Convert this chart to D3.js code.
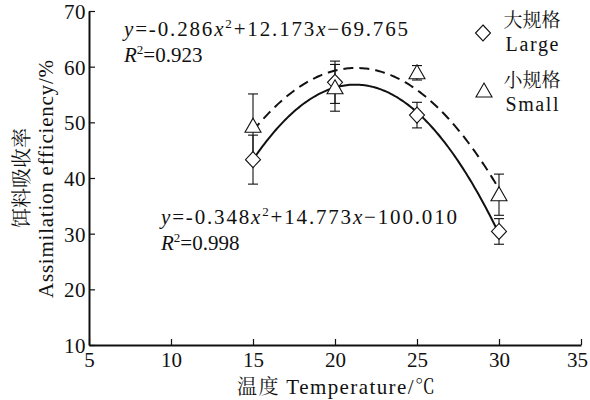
<!DOCTYPE html>
<html><head><meta charset="utf-8">
<script src="https://cdn.jsdelivr.net/npm/d3@7"></script>
<style>html,body{margin:0;padding:0;background:#fff;}</style>
</head>
<body><svg id="c" width="590" height="400"></svg>
<script>
const temps = [15, 20, 25, 30];
const largeMean = [43.3, 57.2, 51.3, 30.4];
const largeErr  = [4.4, 3.8, 2.3, 2.3];
const smallMean = [49.3, 56.2, 58.9, 37.0];
const smallErr  = [5.8, 4.2, 1.3, 3.7];
const largeCoef = [-0.348, 14.773, -100.010];
const smallCoef = [-0.286, 12.173, -69.765];
const xTicks = [5, 10, 15, 20, 25, 30, 35];
const yTicks = [10, 20, 30, 40, 50, 60, 70];

const SERIF = "'Liberation Serif'";
const CJK = "'Noto Serif CJK SC','Noto Sans CJK SC'";
const INK = "#111";
const svg = d3.select("#c");
const x = d3.scaleLinear().domain([5, 35]).range([89, 581]);
const y = d3.scaleLinear().domain([10, 70]).range([345, 11]);

function txt(sel, size, fam) {
  return sel.style("font-family", fam || SERIF).style("font-size", size + "px").style("fill", INK);
}

// axes
const gx = svg.append("g").attr("transform", "translate(0,345)")
  .call(d3.axisBottom(x).tickValues(xTicks).tickSizeInner(-6).tickSizeOuter(0).tickPadding(7).tickFormat(d3.format("d")));
const gy = svg.append("g").attr("transform", "translate(89,0)")
  .call(d3.axisLeft(y).tickValues(yTicks).tickSizeInner(-6).tickSizeOuter(0).tickPadding(3).tickFormat(d3.format("d")));
[gx, gy].forEach(g => {
  g.select(".domain").attr("stroke", INK).attr("stroke-width", 2);
  g.selectAll(".tick line").attr("stroke", INK).attr("stroke-width", 1.2);
  txt(g.selectAll("text"), 21);
});
gy.selectAll(".tick text").attr("dy", "0.36em").style("letter-spacing", "0.5px");
gx.selectAll(".tick text").filter(d => d === 35).attr("dx", -4);

// curves
const xs = d3.range(15, 30.001, 0.1);
const poly = c => v => c[0]*v*v + c[1]*v + c[2];
const line = d3.line().x(d => x(d[0])).y(d => y(d[1]));
svg.append("path").datum(xs.map(v => [v, poly(largeCoef)(v)]))
  .attr("d", line).attr("fill", "none").attr("stroke", INK).attr("stroke-width", 2);
svg.append("path").datum(xs.map(v => [v, poly(smallCoef)(v)]))
  .attr("d", line).attr("fill", "none").attr("stroke", INK).attr("stroke-width", 2).attr("stroke-dasharray", "10,6");

// error bars
function errBars(means, errs) {
  const g = svg.append("g").attr("stroke", INK).attr("stroke-width", 1.1);
  temps.forEach((t, i) => {
    const cx = x(t), top = y(means[i] + errs[i]), bot = y(means[i] - errs[i]);
    g.append("line").attr("x1", cx).attr("x2", cx).attr("y1", top).attr("y2", bot);
    g.append("line").attr("x1", cx - 5).attr("x2", cx + 5).attr("y1", top).attr("y2", top);
    g.append("line").attr("x1", cx - 5).attr("x2", cx + 5).attr("y1", bot).attr("y2", bot);
  });
}
errBars(smallMean, smallErr);
errBars(largeMean, largeErr);

const diamond = "M0,-8L7.5,0L0,8L-7.5,0Z";
const triangle = "M0,-8L8,6L-8,6Z";
svg.append("g").selectAll("path").data(temps).join("path")
  .attr("d", diamond).attr("transform", (t, i) => `translate(${x(t)},${y(largeMean[i])})`)
  .attr("fill", "#fff").attr("stroke", INK).attr("stroke-width", 1.1);
svg.append("g").selectAll("path").data(temps).join("path")
  .attr("d", triangle).attr("transform", (t, i) => `translate(${x(t)},${y(smallMean[i])})`)
  .attr("fill", "#fff").attr("stroke", INK).attr("stroke-width", 1.1);

// equations
function equation(xp, yp, a, b, c, r2, len) {
  const t = txt(svg.append("text"), 21).attr("x", xp).attr("y", yp)
    .attr("textLength", len).attr("lengthAdjust", "spacing");
  t.append("tspan").style("font-style", "italic").text("y");
  t.append("tspan").text("=" + a);
  t.append("tspan").style("font-style", "italic").text("x");
  t.append("tspan").style("font-size", "13px").attr("dy", -8).text("2");
  t.append("tspan").attr("dy", 8).text("+" + b);
  t.append("tspan").style("font-style", "italic").text("x");
  t.append("tspan").text("\u2212" + c);
  const r = txt(svg.append("text"), 21).attr("x", xp).attr("y", yp + 26);
  r.append("tspan").style("font-style", "italic").text("R");
  r.append("tspan").style("font-size", "13px").attr("dy", -8).text("2");
  r.append("tspan").attr("dy", 8).text("=" + r2);
}
equation(124, 36, "-0.286", "12.173", "69.765", "0.923", 284);
equation(161, 224, "-0.348", "14.773", "100.010", "0.998", 296);

// legend
svg.append("path").attr("d", diamond).attr("transform", "translate(483,33)")
  .attr("fill", "#fff").attr("stroke", INK).attr("stroke-width", 1.1);
svg.append("path").attr("d", triangle).attr("transform", "translate(484,91)")
  .attr("fill", "#fff").attr("stroke", INK).attr("stroke-width", 1.1);
txt(svg.append("text"), 19, CJK).attr("x", 532).attr("y", 27).attr("text-anchor", "middle").text("大规格");
txt(svg.append("text"), 20).attr("x", 532).attr("y", 51).attr("text-anchor", "middle").attr("textLength", 53).text("Large");
txt(svg.append("text"), 19, CJK).attr("x", 532).attr("y", 87).attr("text-anchor", "middle").text("小规格");
txt(svg.append("text"), 20).attr("x", 532).attr("y", 111).attr("text-anchor", "middle").attr("textLength", 53).text("Small");

// axis titles
const xt = txt(svg.append("text"), 21).attr("x", 237).attr("y", 394)
  .attr("textLength", 198).attr("lengthAdjust", "spacing");
xt.append("tspan").style("font-family", CJK).style("font-size", "20px").text("温度 ");
xt.append("tspan").text("Temperature/");
xt.append("tspan").style("font-family", CJK).style("font-size", "20px").text("℃");

txt(svg.append("text"), 20, CJK).attr("transform", "translate(29,178) rotate(-90)")
  .attr("text-anchor", "middle").text("饵料吸收率");
txt(svg.append("text"), 21).attr("transform", "translate(53,179) rotate(-90)")
  .attr("text-anchor", "middle").attr("textLength", 238).attr("lengthAdjust", "spacing")
  .text("Assimilation efficiency/%");
</script></body></html>
